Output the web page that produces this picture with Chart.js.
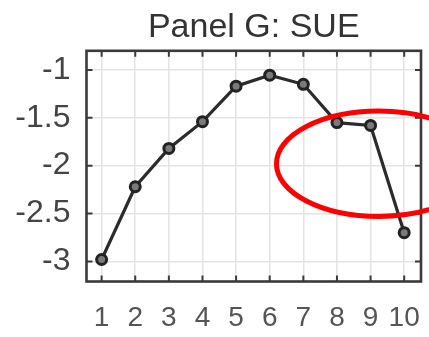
<!DOCTYPE html>
<html>
<head>
<meta charset="utf-8">
<script src="https://cdn.jsdelivr.net/npm/chart.js@4/dist/chart.umd.min.js"></script>
<style>
  html, body { margin: 0; padding: 0; background: #ffffff; }
  canvas { display: block; }
</style>
</head>
<body>
<canvas id="chart" width="429" height="337"></canvas>
<script>
// Decile portfolios and their SUE values
const categories = [1, 2, 3, 4, 5, 6, 7, 8, 9, 10];
const sueValues = [-2.98, -2.22, -1.82, -1.54, -1.17, -1.055, -1.15, -1.55, -1.58, -2.70];
const yTickValues = [-3, -2.5, -2, -1.5, -1];
const yTickLabels = ['-3', '-2.5', '-2', '-1.5', '-1'];
const xTickLabels = ['1', '2', '3', '4', '5', '6', '7', '8', '9', '10'];

// Highlight ring around the last deciles, in data units
const highlightCenter = { x: 9.24, y: -1.98 };
const highlightRadius = { x: 3.04, y: 0.55 };

const FONT = "'Liberation Sans', Arial, sans-serif";

// Axes box with inward tick marks on all four sides
const boxPlugin = {
  id: 'axesBox',
  beforeDatasetsDraw(chart) {
    const { ctx, chartArea: a, scales } = chart;
    ctx.save();
    ctx.strokeStyle = '#3a3a3a';
    ctx.lineWidth = 2;
    const len = 6;
    ctx.beginPath();
    categories.forEach(v => {
      const px = scales.x.getPixelForValue(v);
      ctx.moveTo(px, a.bottom); ctx.lineTo(px, a.bottom - len);
      ctx.moveTo(px, a.top); ctx.lineTo(px, a.top + len);
    });
    yTickValues.forEach(v => {
      const py = scales.y.getPixelForValue(v);
      ctx.moveTo(a.left, py); ctx.lineTo(a.left + len, py);
      ctx.moveTo(a.right, py); ctx.lineTo(a.right - len, py);
    });
    ctx.stroke();
    ctx.lineWidth = 2.6;
    ctx.strokeRect(a.left, a.top, a.right - a.left, a.bottom - a.top);
    ctx.restore();
  },
  afterDraw(chart) {
    const { ctx, scales } = chart;
    const cx = scales.x.getPixelForValue(highlightCenter.x);
    const cy = scales.y.getPixelForValue(highlightCenter.y);
    const rx = scales.x.getPixelForValue(highlightCenter.x + highlightRadius.x) - cx;
    const ry = cy - scales.y.getPixelForValue(highlightCenter.y + highlightRadius.y);
    ctx.save();
    ctx.strokeStyle = '#ff0000';
    ctx.lineWidth = 5;
    ctx.beginPath();
    ctx.ellipse(cx, cy, rx, ry, 0, 0, Math.PI * 2);
    ctx.stroke();
    ctx.restore();
  }
};

new Chart(document.getElementById('chart'), {
  type: 'line',
  data: {
    datasets: [{
      data: categories.map((c, i) => ({ x: c, y: sueValues[i] })),
      borderColor: '#2b2b2b',
      borderWidth: 3.2,
      pointRadius: 5,
      pointBorderWidth: 3,
      pointBorderColor: '#222222',
      pointBackgroundColor: '#7a7a7a',
      tension: 0,
      clip: false
    }]
  },
  options: {
    responsive: false,
    animation: false,
    devicePixelRatio: 1,
    layout: { padding: { left: 0, right: 6, top: 0, bottom: 0 } },
    plugins: {
      legend: { display: false },
      tooltip: { enabled: false },
      title: {
        display: true,
        text: 'Panel G: SUE',
        fullSize: false,
        color: '#333333',
        font: { family: FONT, size: 34, weight: 'normal' },
        padding: { top: 7, bottom: 3 }
      }
    },
    scales: {
      x: {
        type: 'linear',
        min: 0.55,
        max: 10.5,
        afterBuildTicks(scale) { scale.ticks = categories.map(v => ({ value: v })); },
        afterFit(scale) {
          scale.height = 55.5;
          scale.paddingLeft = 0;
          scale.paddingRight = 0;
        },
        grid: { color: '#e4e4e4', lineWidth: 1.5, drawTicks: false },
        border: { display: false },
        ticks: {
          autoSkip: false,
          maxRotation: 0,
          padding: 20,
          color: '#555555',
          font: { family: FONT, size: 28 },
          callback: (v) => xTickLabels[categories.indexOf(v)]
        }
      },
      y: {
        type: 'linear',
        min: -3.21,
        max: -0.80,
        afterBuildTicks(scale) { scale.ticks = yTickValues.map(v => ({ value: v })); },
        afterFit(scale) {
          scale.width = 86.5;
          scale.paddingTop = 0;
          scale.paddingBottom = 0;
        },
        grid: { color: '#e4e4e4', lineWidth: 1.5, drawTicks: false },
        border: { display: false },
        ticks: {
          padding: 16,
          color: '#444444',
          font: { family: FONT, size: 32 },
          callback: (v) => yTickLabels[yTickValues.indexOf(v)]
        }
      }
    }
  },
  plugins: [boxPlugin]
});
</script>
</body>
</html>
